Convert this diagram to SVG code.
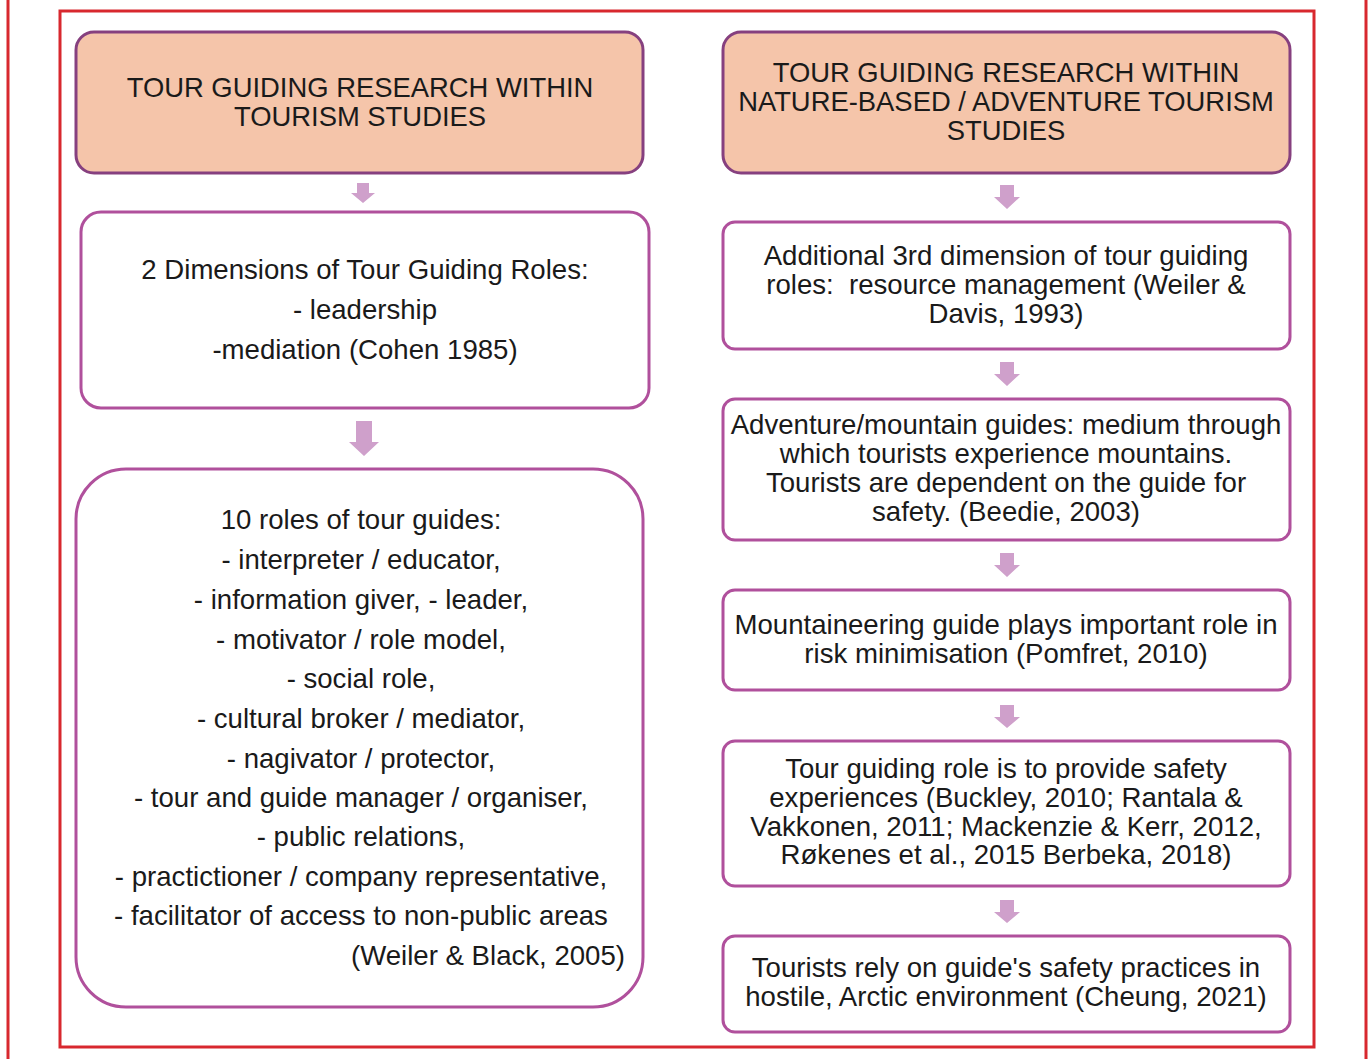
<svg xmlns="http://www.w3.org/2000/svg" width="1368" height="1059" viewBox="0 0 1368 1059">
<style>
.hdr{fill:#f5c5aa;stroke:#86407f;stroke-width:3}
.box{fill:#ffffff;stroke:#b0509c;stroke-width:3}
.t{font-family:"Liberation Sans",Arial,sans-serif;font-size:27.6px;fill:#1a1a1a;text-anchor:middle}
.h{font-size:27.4px}
.arr{fill:#cfa0cb}
.frame{fill:none;stroke:#d8282e;stroke-width:3}
</style>
<rect width="1368" height="1059" fill="#ffffff"/>
<line x1="8" y1="0" x2="8" y2="1059" class="frame"/>
<line x1="1366" y1="0" x2="1366" y2="1059" class="frame"/>
<rect x="60" y="11" width="1254" height="1036" class="frame"/>

<g id="connectors">
<path class="arr" d="M357 183h12v10h6l-12 10l-12-10h6z"/>
<path class="arr" d="M356 421h16v21h7l-15 14l-15-14h7z"/>
<path class="arr" d="M1000 185h14v12h6l-13 12l-13-12h6z"/>
<path class="arr" d="M1000 362h14v12h6l-13 12l-13-12h6z"/>
<path class="arr" d="M1000 553h14v12h6l-13 12l-13-12h6z"/>
<path class="arr" d="M1000 705h14v12h6l-13 11l-13-11h6z"/>
<path class="arr" d="M1000 900h14v12h6l-13 11l-13-11h6z"/>
</g>

<g id="left-header">
<rect class="hdr" x="76" y="32" width="567" height="141" rx="18"/>
<text class="t h" x="360" y="97">TOUR GUIDING RESEARCH WITHIN</text>
<text class="t h" x="360" y="126">TOURISM STUDIES</text>
</g>

<g id="left-dimensions">
<rect class="box" x="81" y="212" width="568" height="196" rx="20"/>
<text class="t" x="365" y="279">2 Dimensions of Tour Guiding Roles:</text>
<text class="t" x="365" y="319">- leadership</text>
<text class="t" x="365" y="359">-mediation (Cohen 1985)</text>
</g>

<g id="left-roles">
<rect class="box" x="76" y="469" width="567" height="538" rx="50"/>
<text class="t" x="361" y="529">10 roles of tour guides:</text>
<text class="t" x="361" y="569">- interpreter / educator,</text>
<text class="t" x="361" y="609">- information giver, - leader,</text>
<text class="t" x="361" y="649">- motivator / role model,</text>
<text class="t" x="361" y="688">- social role,</text>
<text class="t" x="361" y="728">- cultural broker / mediator,</text>
<text class="t" x="361" y="768">- nagivator / protector,</text>
<text class="t" x="361" y="807">- tour and guide manager / organiser,</text>
<text class="t" x="361" y="846">- public relations,</text>
<text class="t" x="361" y="886">- practictioner / company representative,</text>
<text class="t" x="361" y="925">- facilitator of access to non-public areas</text>
<text class="t" x="625" y="965" style="text-anchor:end">(Weiler &amp; Black, 2005)</text>
</g>

<g id="right-header">
<rect class="hdr" x="723" y="32" width="567" height="141" rx="18"/>
<text class="t h" x="1006" y="82">TOUR GUIDING RESEARCH WITHIN</text>
<text class="t h" x="1006" y="111">NATURE-BASED / ADVENTURE TOURISM</text>
<text class="t h" x="1006" y="140">STUDIES</text>
</g>

<g id="right-third-dimension">
<rect class="box" x="723" y="222" width="567" height="127" rx="12"/>
<text class="t" x="1006" y="265">Additional 3rd dimension of tour guiding</text>
<text class="t" x="1006" y="294">roles:&#160; resource management (Weiler &amp;</text>
<text class="t" x="1006" y="323">Davis, 1993)</text>
</g>

<g id="right-adventure">
<rect class="box" x="723" y="399" width="567" height="141" rx="12"/>
<text class="t" x="1006" y="434">Adventure/mountain guides: medium through</text>
<text class="t" x="1006" y="463">which tourists experience mountains.</text>
<text class="t" x="1006" y="492">Tourists are dependent on the guide for</text>
<text class="t" x="1006" y="521">safety. (Beedie, 2003)</text>
</g>

<g id="right-mountaineering">
<rect class="box" x="723" y="590" width="567" height="100" rx="12"/>
<text class="t" x="1006" y="634">Mountaineering guide plays important role in</text>
<text class="t" x="1006" y="663">risk minimisation (Pomfret, 2010)</text>
</g>

<g id="right-safety">
<rect class="box" x="723" y="741" width="567" height="145" rx="12"/>
<text class="t" x="1006" y="778">Tour guiding role is to provide safety</text>
<text class="t" x="1006" y="807">experiences (Buckley, 2010; Rantala &amp;</text>
<text class="t" x="1006" y="836">Vakkonen, 2011; Mackenzie &amp; Kerr, 2012,</text>
<text class="t" x="1006" y="864">Røkenes et al., 2015 Berbeka, 2018)</text>
</g>

<g id="right-arctic">
<rect class="box" x="723" y="936" width="567" height="96" rx="12"/>
<text class="t" x="1006" y="977">Tourists rely on guide's safety practices in</text>
<text class="t" x="1006" y="1006">hostile, Arctic environment (Cheung, 2021)</text>
</g>
</svg>
